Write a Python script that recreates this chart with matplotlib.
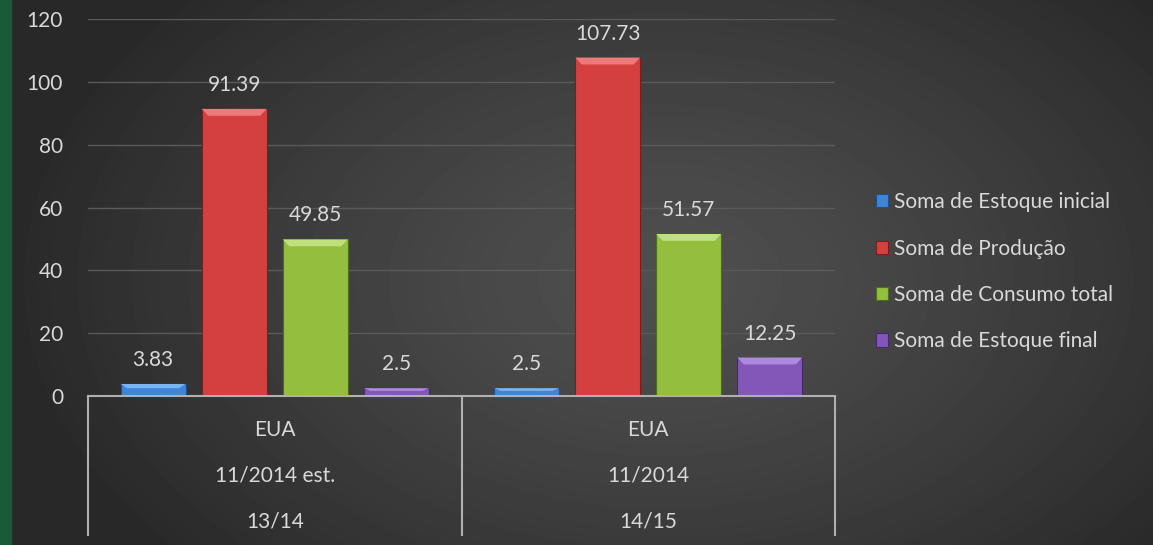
import matplotlib
matplotlib.use("Agg")
import matplotlib.pyplot as plt
import numpy as np
from matplotlib.patches import Polygon
from matplotlib.lines import Line2D
import matplotlib.transforms as mtransforms

plt.rcParams['font.family'] = ['Lato', 'DejaVu Sans']

# data
groups = ['13/14', '14/15']
reports = ['11/2014 est.', '11/2014']
country = ['EUA', 'EUA']
series = ['Soma de Estoque inicial', 'Soma de Produção',
          'Soma de Consumo total', 'Soma de Estoque final']
estoque_inicial = [3.83, 2.5]
producao = [91.39, 107.73]
consumo_total = [49.85, 51.57]
estoque_final = [2.5, 12.25]
values = [estoque_inicial, producao, consumo_total, estoque_final]

colors = ['#3f85d6', '#d43f3f', '#93be3e', '#8257b8']
tops = ['#7ab4f0', '#ec7a7a', '#bfe07a', '#ad8ae0']
edges = ['#1d4f8a', '#7a1f1f', '#4f6e1c', '#45286e']
txt = '#d9d9d9'
fs = 15

fig = plt.figure(figsize=(11.53, 5.45), dpi=100)

# background gradient
bg = fig.add_axes([0, 0, 1, 1], zorder=-10)
yy, xx = np.mgrid[0:545, 0:1153]
r = np.sqrt(((xx - 660) / 650.0) ** 2 + ((yy - 280) / 420.0) ** 2)
shade = 0.31 - 0.15 * np.clip(r, 0, 1) ** 1.3
bg.imshow(shade, cmap='gray', vmin=0, vmax=1, aspect='auto',
          extent=[0, 1153, 545, 0])
bg.axvspan(0, 11, color='#1b5a36')
bg.set_xlim(0, 1153)
bg.set_ylim(545, 0)
bg.axis('off')

ax = fig.add_axes([88 / 1153, 149 / 545, 747 / 1153, 377 / 545])
ax.patch.set_alpha(0)

x = np.arange(len(groups))
step = 0.217
width = 0.174
for i, (vals, name) in enumerate(zip(values, series)):
    pos = x + (i - 1.5) * step
    bars = ax.bar(pos, vals, width, color=colors[i], edgecolor=edges[i],
                  linewidth=0.8, label=name, zorder=3)
    for b, v in zip(bars, vals):
        bx, bw, bh = b.get_x(), b.get_width(), b.get_height()
        d = min(2.2, bh * 0.35)
        inset = bw * 0.1
        ax.add_patch(Polygon([(bx, bh), (bx + bw, bh), (bx + bw - inset, bh - d),
                              (bx + inset, bh - d)], closed=True,
                             facecolor=tops[i], edgecolor='none', zorder=4))
        ax.annotate(f'{v:g}', (bx + bw / 2, bh), xytext=(0, 14),
                    textcoords='offset pixels', ha='center', va='bottom',
                    fontsize=fs, color=txt)

ax.set_xlim(-0.5, 1.5)
ax.set_ylim(0, 120)
ax.set_yticks(np.arange(0, 121, 20))
ax.yaxis.grid(True, color='#5a5a5a', linewidth=1, zorder=0)
ax.tick_params(axis='y', length=0, labelsize=fs, labelcolor=txt, pad=18)
ax.set_xticks([])
for s in ['top', 'right', 'left']:
    ax.spines[s].set_visible(False)
ax.spines['bottom'].set_color('#b0b0b0')
ax.spines['bottom'].set_linewidth(1.5)
ax.spines['bottom'].set_zorder(5)

# category table below axis
tr = mtransforms.blended_transform_factory(ax.transData, ax.transAxes)
for xb in [-0.5, 0.5, 1.5]:
    ax.add_line(Line2D([xb, xb], [0, -0.369], transform=tr, color='#b0b0b0',
                       linewidth=1.5, clip_on=False))
for xi, c, rep, g in zip(x, country, reports, groups):
    for yv, label in zip([-0.090, -0.212, -0.334], [c, rep, g]):
        ax.text(xi, yv, label, transform=tr, ha='center', va='center',
                fontsize=fs, color=txt)

leg = ax.legend(loc='upper left', bbox_to_anchor=(857 / 1153, 0.682),
                bbox_transform=fig.transFigure, frameon=False, fontsize=fs,
                handlelength=0.6, handleheight=0.6, handletextpad=0.3,
                labelspacing=1.27, labelcolor=txt)

fig.savefig('out.png', dpi=100)
